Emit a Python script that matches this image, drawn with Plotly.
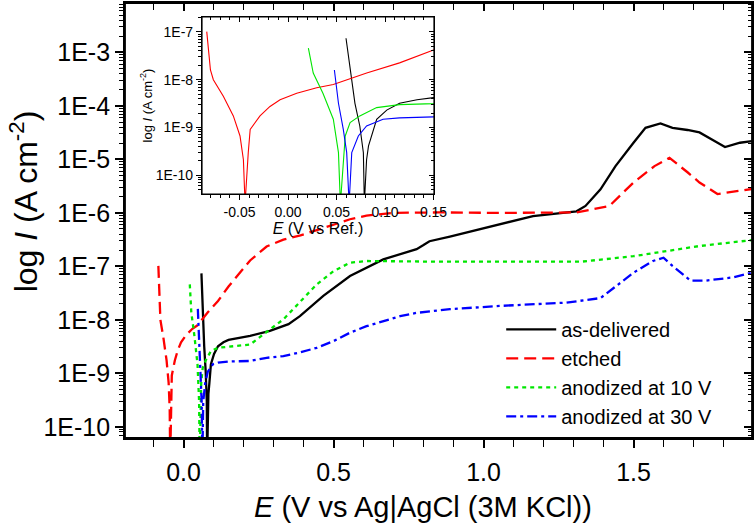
import plotly.graph_objects as go

# potentiodynamic polarisation curves, E in V vs Ag|AgCl, I in A cm-2
E_as = [0.0598, 0.064, 0.069, 0.074, 0.0777, 0.0787, 0.081, 0.083, 0.0863, 0.0914, 0.1018, 0.115, 0.133, 0.15,
        0.222, 0.288, 0.35, 0.388, 0.466, 0.555, 0.666, 0.777, 0.80, 0.82, 0.888, 1.055, 1.165, 1.31, 1.34, 1.39,
        1.44, 1.50, 1.54, 1.59, 1.63, 1.68, 1.72, 1.77, 1.805, 1.855, 1.895]
I_as = [7.4e-8, 1.6e-8, 3.2e-9, 1.07e-9, 2.95e-10, 2.5e-11, 2.1e-10, 4.1e-10, 6.6e-10, 1.48e-9, 2.3e-9, 3.2e-9, 3.8e-9, 4.2e-9,
        5.0e-9, 6.2e-9, 8.3e-9, 1.17e-8, 2.8e-8, 6.6e-8, 1.35e-7, 2.1e-7, 2.5e-7, 2.95e-7, 3.6e-7, 6.1e-7, 8.7e-7, 1.07e-6, 1.35e-6, 2.75e-6,
        7.5e-6, 2.05e-5, 3.9e-5, 4.7e-5, 3.9e-5, 3.55e-5, 3.2e-5, 2.2e-5, 1.7e-5, 2.05e-5, 2.2e-5]

E_etch = [-0.0838, -0.080, -0.077, -0.0667, -0.0564, -0.0495, -0.046, -0.0443, -0.041, -0.039, -0.0289, -0.0186, -0.0082,
          0.009, 0.0296, 0.0467, 0.0811, 0.115, 0.15, 0.222, 0.277, 0.333, 0.39, 0.444, 0.50, 0.555, 0.61, 0.70, 0.85,
          1.055, 1.31, 1.42, 1.50, 1.57, 1.62, 1.68, 1.72, 1.78, 1.83, 1.895]
I_etch = [1.02e-7, 1.6e-8, 1.0e-8, 4.5e-9, 1.74e-9, 6.6e-10, 2.1e-10, 2.5e-11, 2.95e-10, 9.1e-10, 1.74e-9, 2.75e-9, 3.8e-9,
          5.2e-9, 6.8e-9, 7.9e-9, 1.38e-8, 2.25e-8, 4.2e-8, 1.29e-7, 2.35e-7, 3.15e-7, 3.8e-7, 4.7e-7, 6.0e-7, 7.6e-7, 8.9e-7, 1.0e-6, 1.02e-6,
          1.0e-6, 1.02e-6, 1.35e-6, 3.7e-6, 7.5e-6, 1.07e-5, 5.75e-6, 3.7e-6, 2.25e-6, 2.45e-6, 2.8e-6]

E_10V = [0.021, 0.026, 0.036, 0.0467, 0.052, 0.054, 0.059, 0.064, 0.074, 0.0914, 0.115, 0.15, 0.222, 0.288, 0.333,
         0.388, 0.444, 0.50, 0.555, 0.61, 0.80, 1.055, 1.33, 1.50, 1.61, 1.72, 1.895]
I_10V = [4.6e-8, 1.38e-8, 5.2e-9, 1.48e-9, 2.95e-10, 2.5e-11, 6.6e-10, 1.26e-9, 1.74e-9, 2.6e-9, 3.0e-9, 3.15e-9, 3.45e-9, 6.6e-9, 1.02e-8,
         2.15e-8, 4.6e-8, 8.1e-8, 1.17e-7, 1.26e-7, 1.23e-7, 1.23e-7, 1.23e-7, 1.55e-7, 1.95e-7, 2.4e-7, 3.1e-7]

E_30V = [0.0478, 0.052, 0.057, 0.0605, 0.063, 0.0657, 0.0725, 0.081, 0.098, 0.115, 0.15, 0.222, 0.277, 0.333, 0.388,
         0.444, 0.50, 0.555, 0.61, 0.666, 0.722, 0.777, 0.833, 0.888, 1.055, 1.277, 1.39, 1.44, 1.50, 1.565, 1.60,
         1.63, 1.69, 1.74, 1.83, 1.895]
I_30V = [1.6e-8, 3.2e-9, 9.1e-10, 2.95e-10, 2.5e-11, 2.95e-10, 6.6e-10, 1.07e-9, 1.48e-9, 1.58e-9, 1.66e-9, 1.7e-9, 1.95e-9, 2.1e-9, 2.45e-9,
         3.0e-9, 4.0e-9, 5.75e-9, 7.6e-9, 9.5e-9, 1.17e-8, 1.35e-8, 1.45e-8, 1.58e-8, 1.82e-8, 2.1e-8, 2.55e-8, 4.25e-8, 7.6e-8, 1.26e-7, 1.45e-7,
         1.02e-7, 5.4e-8, 5.4e-8, 6.2e-8, 7.6e-8]

names = ['as-delivered', 'etched', 'anodized at 10 V', 'anodized at 30 V']
colors = ['#000000', '#ff0000', '#00e600', '#0000ff']
dashes = ['solid', '12px,6px', '4px,4px', '10px,4px,3px,4px']

main_yticks = [1e-10, 1e-9, 1e-8, 1e-7, 1e-6, 1e-5, 1e-4, 1e-3]
main_ytext = ['1E-10', '1E-9', '1E-8', '1E-7', '1E-6', '1E-5', '1E-4', '1E-3']
main_xticks = [0.0, 0.5, 1.0, 1.5]
main_xtext = ['0.0', '0.5', '1.0', '1.5']
ins_yticks = [1e-10, 1e-9, 1e-8, 1e-7]
ins_ytext = ['1E-10', '1E-9', '1E-8', '1E-7']
ins_xticks = [-0.05, 0.0, 0.05, 0.10, 0.15]
ins_xtext = ['-0.05', '0.00', '0.05', '0.10', '0.15']

log_minor = [m * d for d in [1e-11, 1e-10, 1e-9, 1e-8, 1e-7, 1e-6, 1e-5, 1e-4, 1e-3, 1e-2] for m in range(2, 10)]

FONT = 'Arial, Liberation Sans, sans-serif'
series = [(E_as, I_as), (E_etch, I_etch), (E_10V, I_10V), (E_30V, I_30V)]

fig = go.Figure()
for (e, i), n, c, d in zip(series, names, colors, dashes):
    fig.add_trace(go.Scatter(x=e, y=i, name=n, mode='lines',
                             line=dict(color=c, width=2.3, dash=d)))
for (e, i), c in zip(series, colors):
    fig.add_trace(go.Scatter(x=e, y=i, mode='lines', showlegend=False,
                             line=dict(color=c, width=1.1), xaxis='x2', yaxis='y2'))

# invisible copies so the mirrored (top/right) axes get drawn
for xa, ya in [('x3', 'y'), ('x', 'y3'), ('x4', 'y2'), ('x2', 'y4')]:
    fig.add_trace(go.Scatter(x=E_as, y=I_as, mode='lines', opacity=0, showlegend=False,
                             hoverinfo='skip', line=dict(width=0.5), xaxis=xa, yaxis=ya))

XR = [-0.195, 1.895]
YR = [-10.21, -2.075]
XR2 = [-0.0887, 0.1505]
YR2 = [-10.397, -6.686]

ax_common = dict(showline=True, linecolor='black', showgrid=False, zeroline=False,
                 tickcolor='black', automargin=False)

fig.update_layout(
    width=756, height=527,
    margin=dict(l=125, r=4, t=3, b=89),
    paper_bgcolor='white', plot_bgcolor='white',
    font=dict(family=FONT, color='black'),
    xaxis=dict(ax_common, range=XR, linewidth=1.8, ticks='outside', ticklen=8, tickwidth=1.5,
               tickvals=main_xticks, ticktext=main_xtext, tickfont=dict(size=25), ticklabelstandoff=3,
               minor=dict(dtick=0.1, tick0=0, ticks='outside', ticklen=7, tickwidth=1.2)),
    yaxis=dict(ax_common, type='log', range=YR, linewidth=1.8, ticks='outside', ticklen=8, tickwidth=1.5,
               tickvals=main_yticks, ticktext=main_ytext, tickfont=dict(size=25),
               minor=dict(tickvals=log_minor, ticks='outside', ticklen=4, tickwidth=1)),
    xaxis3=dict(ax_common, overlaying='x', side='top', anchor='y', range=XR, linewidth=1.8,
                ticks='inside', ticklen=8, tickwidth=1.5, tickvals=main_xticks, showticklabels=False,
                minor=dict(dtick=0.1, tick0=0, ticks='inside', ticklen=7, tickwidth=1.2)),
    yaxis3=dict(ax_common, overlaying='y', side='right', anchor='x', type='log', range=YR, linewidth=1.8,
                ticks='inside', ticklen=8, tickwidth=1.5, tickvals=main_yticks, showticklabels=False,
                minor=dict(tickvals=log_minor, ticks='inside', ticklen=4, tickwidth=1)),
    xaxis2=dict(ax_common, domain=[0.1228, 0.4928], anchor='y2', range=XR2, linewidth=1.2,
                ticks='outside', ticklen=5, tickwidth=1, tickvals=ins_xticks, ticktext=ins_xtext,
                tickfont=dict(size=14),
                minor=dict(dtick=0.01, tick0=0, ticks='outside', ticklen=3, tickwidth=1),
                title=dict(text='<i>E</i> (V vs Ref.)', font=dict(size=16), standoff=0)),
    yaxis2=dict(ax_common, domain=[0.5609, 0.9678], anchor='x2', type='log', range=YR2, linewidth=1.2,
                ticks='outside', ticklen=5, tickwidth=1, tickvals=ins_yticks, ticktext=ins_ytext,
                tickfont=dict(size=14),
                minor=dict(tickvals=log_minor, ticks='outside', ticklen=3, tickwidth=1),
                title=dict(text='log <i>I</i> (A cm<sup>-2</sup>)', font=dict(size=13), standoff=0)),
    xaxis4=dict(ax_common, overlaying='x2', side='top', anchor='y2', range=XR2, linewidth=1.2,
                ticks='inside', ticklen=5, tickwidth=1, tickvals=ins_xticks, showticklabels=False,
                minor=dict(dtick=0.01, tick0=0, ticks='inside', ticklen=3, tickwidth=1)),
    yaxis4=dict(ax_common, overlaying='y2', side='right', anchor='x2', type='log', range=YR2, linewidth=1.2,
                ticks='inside', ticklen=5, tickwidth=1, tickvals=ins_yticks, showticklabels=False,
                minor=dict(tickvals=log_minor, ticks='inside', ticklen=3, tickwidth=1)),
    legend=dict(x=0.60, y=0.005, xanchor='left', yanchor='bottom', bgcolor='rgba(0,0,0,0)',
                font=dict(size=20), itemwidth=50, tracegroupgap=0),
    showlegend=True,
    shapes=[
        dict(type='rect', xref='paper', yref='paper', x0=0, x1=1, y0=0, y1=1,
             line=dict(color='black', width=1.8), layer='above'),
        dict(type='rect', xref='x2 domain', yref='y2 domain', x0=0, x1=1, y0=0, y1=1,
             line=dict(color='black', width=1.2), layer='above'),
    ],
    annotations=[
        dict(text='<i>E</i> (V vs Ag|AgCl (3M KCl))', xref='paper', yref='paper', x=0.475, y=-0.159,
             xanchor='center', yanchor='middle', showarrow=False, font=dict(size=29)),
        dict(text='log <i>I</i> (A cm<sup>-2</sup>)', xref='paper', yref='paper', x=-0.162, y=0.545,
             xanchor='center', yanchor='middle', showarrow=False, textangle=-90, font=dict(size=32)),
    ],
)

fig.write_html("out.html", config={'displayModeBar': False},
               post_script="document.body.style.margin='0px';")
